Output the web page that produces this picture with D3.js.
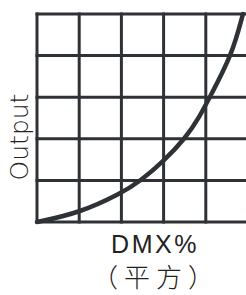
<!DOCTYPE html>
<html>
<head>
<meta charset="utf-8">
<script src="https://cdn.jsdelivr.net/npm/d3@7"></script>
<style>
  html, body { margin: 0; padding: 0; background: #fff; }
  svg { display: block; }
</style>
</head>
<body>
<svg id="chart" width="246" height="295"></svg>
<script>
// grid ticks (percent) and the curve
var xTicks = [0, 20, 40, 60, 80, 100];
var yTicks = [0, 20, 40, 60, 80, 100];
var dmx    = [0, 20, 40, 49, 60, 70.5, 77, 81.9, 92.4, 97.6];
var output = [0, 4.3, 13.8, 19.7, 29.2, 40.5, 50.5, 60.1, 80.3, 100];

var ink = '#2e3236';
var svg = d3.select('#chart');

var x = d3.scaleLinear().domain([0, 100]).range([37, 248]);
var y = d3.scaleLinear().domain([0, 100]).range([222, 14]);

var g = svg.append('g');

// grid
g.selectAll('line.v').data(xTicks).enter().append('line').attr('class', 'v')
  .attr('x1', function(d) { return x(d); }).attr('x2', function(d) { return x(d); })
  .attr('y1', y(0) + 1.5).attr('y2', y(100) - 1.5)
  .attr('stroke', ink).attr('stroke-width', 3);
g.selectAll('line.h').data(yTicks).enter().append('line').attr('class', 'h')
  .attr('x1', x(0) - 1.5).attr('x2', x(100) + 1.5)
  .attr('y1', function(d) { return y(d); }).attr('y2', function(d) { return y(d); })
  .attr('stroke', ink).attr('stroke-width', 3);

// curve
var pts = dmx.map(function(v, i) { return [v, output[i]]; });
var line = d3.line().x(function(d) { return x(d[0]); }).y(function(d) { return y(d[1]); })
  .curve(d3.curveBasis);
g.append('path').datum(pts).attr('d', line)
  .attr('fill', 'none').attr('stroke', ink).attr('stroke-width', 4.5).attr('stroke-linecap', 'round');

// labels
svg.append('text').attr('transform', 'translate(28,137) rotate(-90)')
  .attr('text-anchor', 'middle').attr('font-family', 'DejaVu Sans').attr('font-weight', 300)
  .attr('font-size', 25).attr('fill', '#222').text('Output');

svg.append('text').attr('x', 155).attr('y', 253)
  .attr('text-anchor', 'middle').attr('font-family', 'Liberation Sans, Arial')
  .attr('font-size', 25).attr('letter-spacing', 2.5).attr('fill', '#222').text('DMX%');

svg.append('text').attr('x', 156).attr('y', 287)
  .attr('text-anchor', 'middle').attr('font-family', 'Noto Sans CJK SC')
  .attr('font-weight', 300).attr('font-size', 26).attr('letter-spacing', 6)
  .attr('fill', '#222').text('（平方）');
</script>
</body>
</html>
